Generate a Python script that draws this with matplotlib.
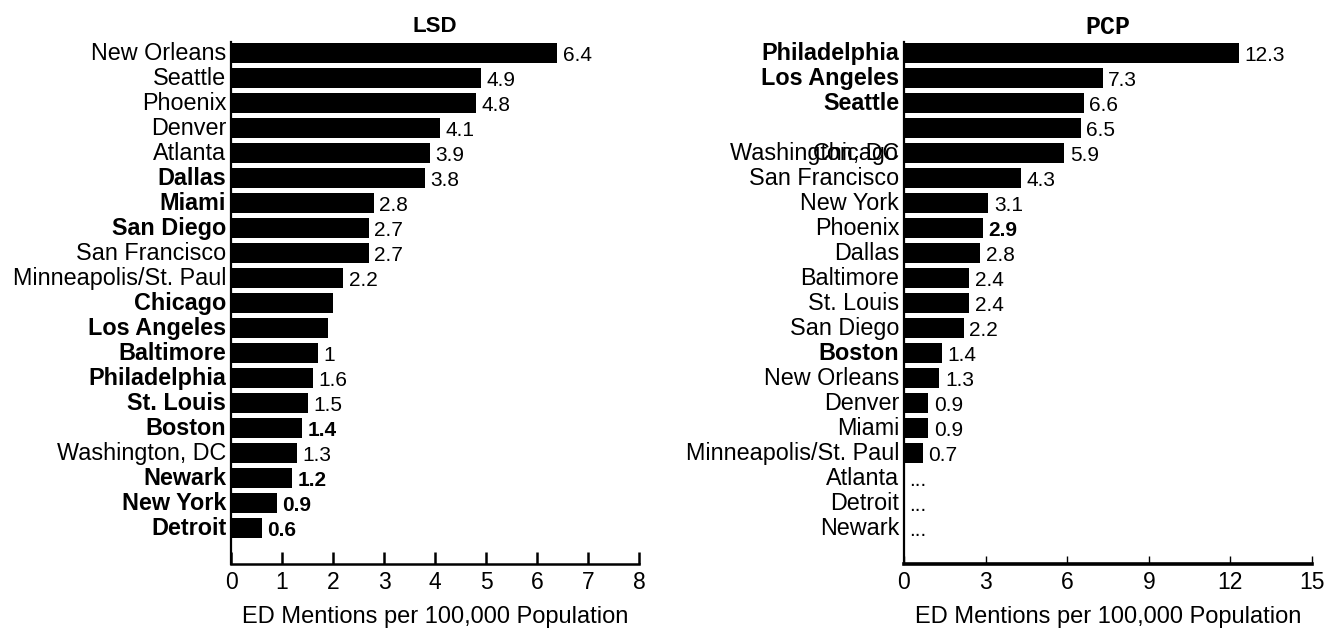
import matplotlib
matplotlib.use("Agg")
import matplotlib.pyplot as plt

plt.rcParams["font.family"] = ["Liberation Sans", "DejaVu Sans"]

# LSD data
lsd_cities = ["New Orleans", "Seattle", "Phoenix", "Denver", "Atlanta", "Dallas", "Miami",
              "San Diego", "San Francisco", "Minneapolis/St. Paul", "Chicago", "Los Angeles",
              "Baltimore", "Philadelphia", "St. Louis", "Boston", "Washington, DC", "Newark",
              "New York", "Detroit"]
lsd_values = [6.4, 4.9, 4.8, 4.1, 3.9, 3.8, 2.8, 2.7, 2.7, 2.2, 2.0, 1.9, 1.7, 1.6, 1.5,
              1.4, 1.3, 1.2, 0.9, 0.6]
lsd_labels = ["6.4", "4.9", "4.8", "4.1", "3.9", "3.8", "2.8", "2.7", "2.7", "2.2", "", "",
              "1", "1.6", "1.5", "1.4", "1.3", "1.2", "0.9", "0.6"]
lsd_bold = ["Dallas", "Miami", "San Diego", "Chicago", "Los Angeles", "Baltimore",
            "Philadelphia", "St. Louis", "Boston", "Newark", "New York", "Detroit"]
lsd_bold_values = ["1.4", "1.2", "0.9", "0.6"]
lsd_xticks = [0, 1, 2, 3, 4, 5, 6, 7, 8]

# PCP data (row 4 has no city label; row 5 label shows two overlapping names)
pcp_cities = ["Philadelphia", "Los Angeles", "Seattle", "", "Washington, DC|Chicago",
              "San Francisco", "New York", "Phoenix", "Dallas", "Baltimore", "St. Louis",
              "San Diego", "Boston", "New Orleans", "Denver", "Miami",
              "Minneapolis/St. Paul", "Atlanta", "Detroit", "Newark"]
pcp_values = [12.3, 7.3, 6.6, 6.5, 5.9, 4.3, 3.1, 2.9, 2.8, 2.4, 2.4, 2.2, 1.4, 1.3, 0.9,
              0.9, 0.7, 0, 0, 0]
pcp_labels = ["12.3", "7.3", "6.6", "6.5", "5.9", "4.3", "3.1", "2.9", "2.8", "2.4", "2.4",
              "2.2", "1.4", "1.3", "0.9", "0.9", "0.7", "...", "...", "..."]
pcp_bold = ["Philadelphia", "Los Angeles", "Seattle", "Boston"]
pcp_bold_values = ["2.9"]
pcp_xticks = [0, 3, 6, 9, 12, 15]

W, H = 1334, 630
fig = plt.figure(figsize=(W / 100, H / 100), dpi=100)
ax_bottom, ax_top = 564, 42
ax1 = fig.add_axes([231 / W, (H - ax_bottom) / H, 408 / W, (ax_bottom - ax_top) / H])
ax2 = fig.add_axes([904 / W, (H - ax_bottom) / H, 408 / W, (ax_bottom - ax_top) / H])

FS_CITY = 16.8
FS_VAL = 15


def draw(ax, cities, values, labels, bold, bold_vals, xticks, xmax, tick_len, tick_w,
         spine_w):
    n = len(cities)
    ys = list(range(n))
    ax.barh(ys, values, height=0.8, color="black")
    ax.set_xlim(0, xmax)
    ax.set_ylim(n - 1 + 1.44, -0.44)
    ax.set_yticks([])
    for y, c in zip(ys, cities):
        for name in c.split("|"):
            if not name:
                continue
            ax.annotate(name, xy=(0, y), xycoords=("axes fraction", "data"),
                        xytext=(-3.5, -0.5), textcoords="offset points",
                        ha="right", va="center", fontsize=FS_CITY,
                        fontweight="bold" if name in bold else "normal")
    for y, v, lab in zip(ys, values, labels):
        if lab:
            ax.annotate(lab, xy=(v, y), xycoords="data", xytext=(4, -2),
                        textcoords="offset points", ha="left", va="center",
                        fontsize=FS_VAL,
                        fontweight="bold" if lab in bold_vals else "normal")
    ax.set_xticks(xticks)
    ax.set_xticklabels([str(t) for t in xticks], fontsize=16.5)
    ax.tick_params(axis="x", direction="in", length=tick_len, width=tick_w, pad=5)
    for s in ["top", "right"]:
        ax.spines[s].set_visible(False)
    ax.spines["left"].set_linewidth(1.6)
    ax.spines["bottom"].set_linewidth(spine_w)
    ax.set_xlabel("ED Mentions per 100,000 Population", fontsize=17, labelpad=9)


draw(ax1, lsd_cities, lsd_values, lsd_labels, lsd_bold, lsd_bold_values, lsd_xticks, 8,
     9, 1.8, 1.8)
draw(ax2, pcp_cities, pcp_values, pcp_labels, pcp_bold, pcp_bold_values, pcp_xticks, 15,
     6, 1.0, 2.6)

ax1.set_title("LSD", fontsize=16, fontweight="bold", pad=7)
ax2.set_title("PCP", fontsize=18, fontweight="bold", family=["Liberation Mono"], pad=6)

fig.savefig("out.png", dpi=100)
